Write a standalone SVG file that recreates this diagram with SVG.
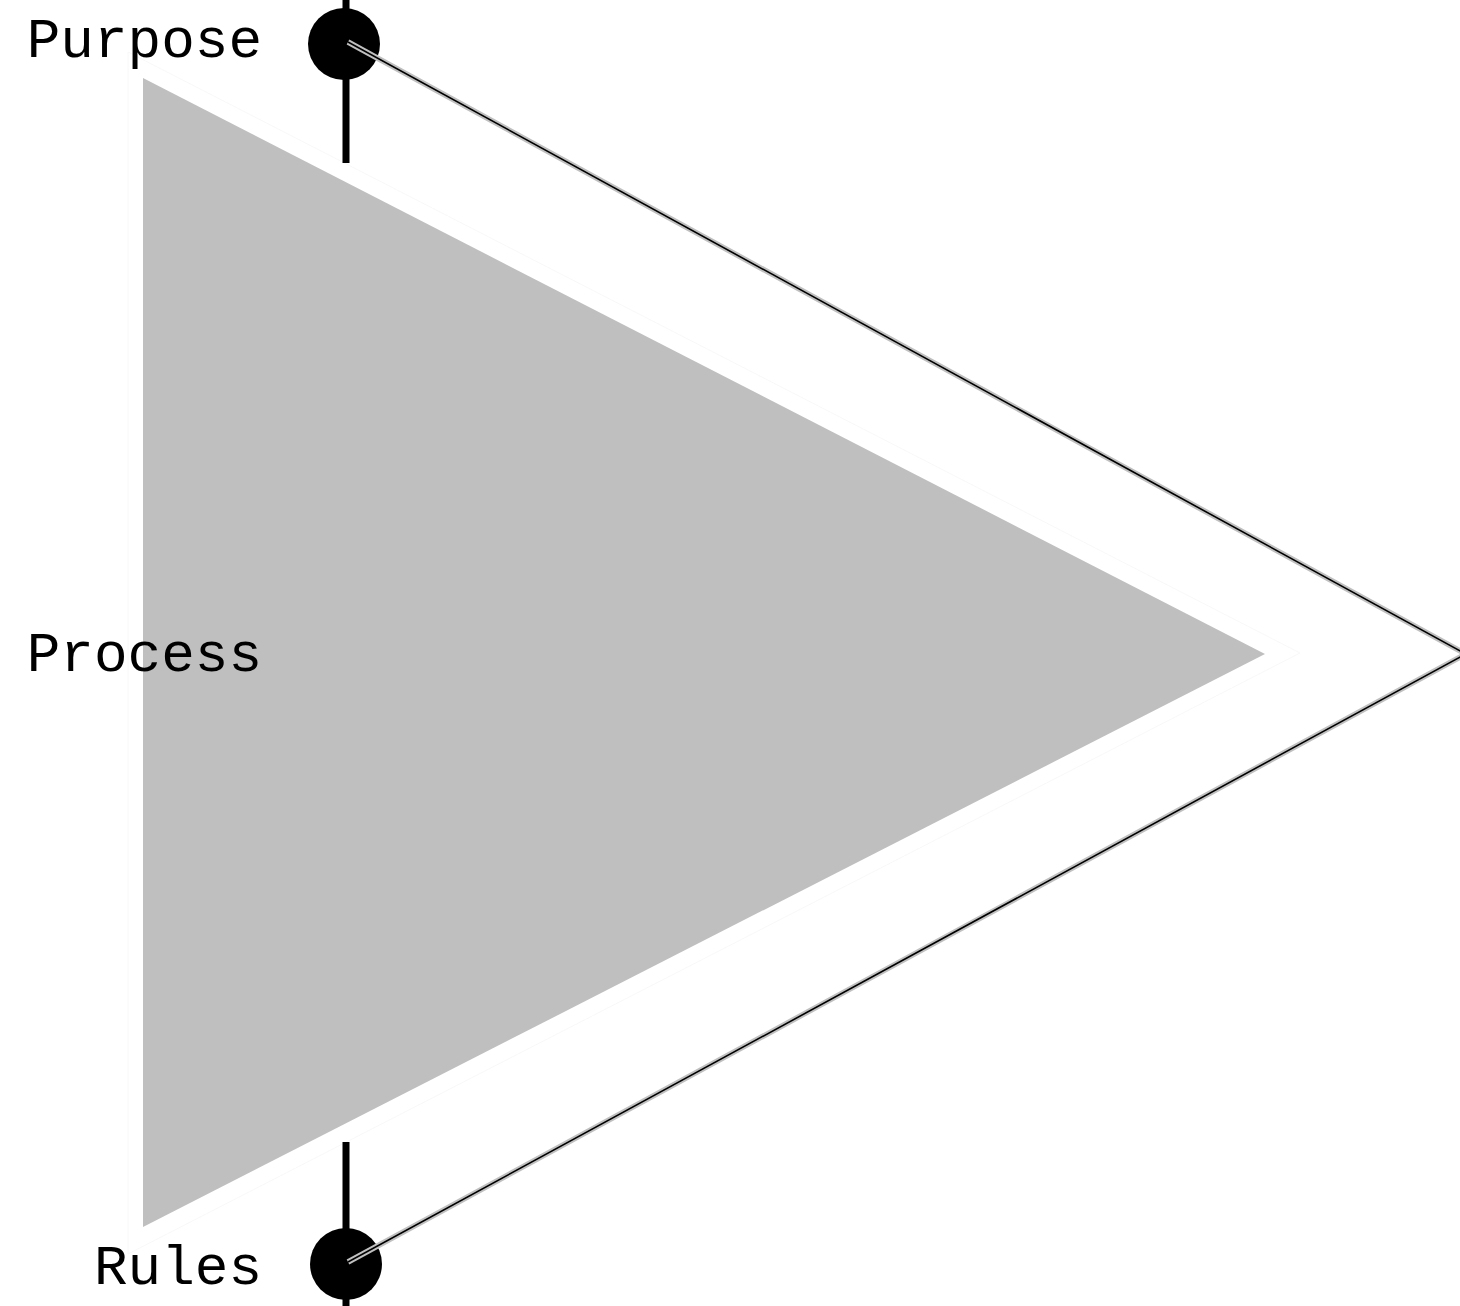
<svg xmlns="http://www.w3.org/2000/svg" width="1460" height="1306" viewBox="0 0 1460 1306">
<style>
.lbl{font-family:"Liberation Mono","DejaVu Sans Mono",monospace;font-size:56px;fill:#000;text-anchor:end}
.stem{stroke:#000;stroke-width:7;fill:none}
.pin{fill:#000}
.wire-o{stroke:#c0c0c0;stroke-width:5.5;fill:none}
.wire-i{stroke:#000;stroke-width:1.6;fill:none}
</style>
<rect width="1460" height="1306" fill="#fff"/>
<g id="process">
<polygon points="128,52 1300,653 128,1254" fill="#fff" stroke="#f6f6f6" stroke-width="0.8"/>
<polygon points="143,78 1265,654 143,1227" fill="#bfbfbf"/>
</g>
<g id="purpose">
<line class="stem" x1="346" y1="0" x2="346" y2="163"/>
<circle class="pin" cx="344" cy="44" r="36"/>
</g>
<g id="rules">
<line class="stem" x1="346" y1="1142" x2="346" y2="1306"/>
<circle class="pin" cx="346" cy="1264" r="36"/>
</g>
<g id="connectors">
<line class="wire-o" x1="348" y1="42" x2="1462" y2="652"/>
<line class="wire-i" x1="348" y1="42" x2="1462" y2="652"/>
<line class="wire-o" x1="348" y1="1262" x2="1462" y2="656"/>
<line class="wire-i" x1="348" y1="1262" x2="1462" y2="656"/>
</g>
<g id="labels">
<text class="lbl" x="262" y="57">Purpose</text>
<text class="lbl" x="262" y="671">Process</text>
<text class="lbl" x="262" y="1284">Rules</text>
</g>
</svg>
